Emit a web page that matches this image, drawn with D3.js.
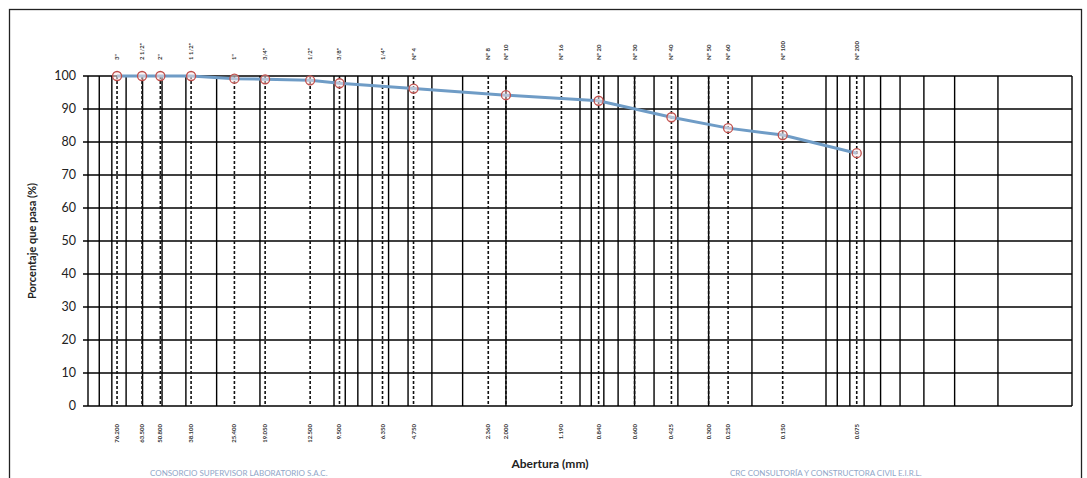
<!DOCTYPE html>
<html>
<head>
<meta charset="utf-8">
<script src="https://cdn.jsdelivr.net/npm/d3@7/dist/d3.min.js"></script>
<style>
  html, body { margin: 0; padding: 0; background: #fff; }
  svg { display: block; font-family: Lato, "Liberation Sans", sans-serif; }
</style>
</head>
<body>
<svg id="chart" width="1087" height="478"></svg>
<script>
// ---- data ----
const sieveNames = ['3"', '2 1/2"', '2"', '1 1/2"', '1"', '3/4"', '1/2"', '3/8"', '1/4"', 'Nº 4',
  'Nº 8', 'Nº 10', 'Nº 16', 'Nº 20', 'Nº 30', 'Nº 40', 'Nº 50', 'Nº 60', 'Nº 100', 'Nº 200'];
const openings = [76.2, 60.3, 50.8, 38.1, 25.4, 19.05, 12.5, 9.5, 6.35, 4.75,
  2.36, 2.0, 1.19, 0.84, 0.6, 0.425, 0.3, 0.25, 0.15, 0.075];
const openingLabels = ["76.200", "63.500", "50.800", "38.100", "25.400", "19.050", "12.500", "9.500", "6.350", "4.750",
  "2.360", "2.000", "1.190", "0.840", "0.600", "0.425", "0.300", "0.250", "0.150", "0.075"];
const passing = [100, 100, 100, 100, 99.2, 99.0, 98.7, 97.8, null, 96.2,
  null, 94.2, null, 92.5, null, 87.5, null, 84.2, 82.1, 76.6];
const yTicks = [0, 10, 20, 30, 40, 50, 60, 70, 80, 90, 100];
const xTitle = "Abertura (mm)";
const yTitle = "Porcentaje que pasa (%)";
const footLeft = "CONSORCIO SUPERVISOR LABORATORIO S.A.C.";
const footRight = "CRC CONSULTORÍA Y CONSTRUCTORA CIVIL E.I.R.L.";

// ---- layout ----
const svg = d3.select("#chart");
const L = 88, R = 1072, T = 76, B = 406;

const x = d3.scaleLog().domain([100, 0.01]).range([L, R]);
const y = d3.scaleLinear().domain([0, 100]).range([B, T]);

// outer frame
svg.append("rect").attr("x", 9.5).attr("y", 9.5).attr("width", 1072).attr("height", 490)
  .attr("fill", "none").attr("stroke", "#222").attr("stroke-width", 1.3);

// horizontal gridlines
svg.append("g").selectAll("line").data(yTicks).join("line")
  .attr("x1", L - 5).attr("x2", R)
  .attr("y1", d => y(d)).attr("y2", d => y(d))
  .attr("stroke", "#000").attr("stroke-width", 1.4);

// log gridlines (major + minor)
const logGrid = [];
for (let e = -2; e <= 1; e++) for (let m = 1; m <= 9; m++) logGrid.push(m * Math.pow(10, e));
logGrid.push(100);
svg.append("g").selectAll("line").data(logGrid).join("line")
  .attr("x1", d => x(d)).attr("x2", d => x(d))
  .attr("y1", T).attr("y2", B)
  .attr("stroke", "#000").attr("stroke-width", 1.4);

// dashed sieve lines
svg.append("g").selectAll("line").data(openings).join("line")
  .attr("x1", d => x(d)).attr("x2", d => x(d))
  .attr("y1", T).attr("y2", B)
  .attr("stroke", "#111").attr("stroke-width", 1.6)
  .attr("stroke-dasharray", "3,2");

// y axis labels
svg.append("g").selectAll("text").data(yTicks).join("text")
  .attr("x", L - 12).attr("y", d => y(d)).attr("dy", "0.35em")
  .attr("text-anchor", "end").attr("font-size", 12.5).attr("fill", "#222")
  .text(d => d);

// y title
svg.append("text")
  .attr("transform", `translate(36,${(T + B) / 2}) rotate(-90)`)
  .attr("text-anchor", "middle").attr("font-size", 11).attr("font-weight", "bold").attr("fill", "#222")
  .text(yTitle);

// x title
svg.append("text").attr("x", 550).attr("y", 468)
  .attr("text-anchor", "middle").attr("font-size", 12).attr("font-weight", "bold").attr("fill", "#222")
  .text(xTitle);

// top sieve labels
svg.append("g").selectAll("text").data(sieveNames).join("text")
  .attr("transform", (d, i) => `translate(${x(openings[i]) + 2},60) rotate(-90)`)
  .attr("text-anchor", "start").attr("font-size", 6).attr("font-weight", "bold").attr("fill", "#333")
  .text(d => d);

// bottom opening labels
svg.append("g").selectAll("text").data(openingLabels).join("text")
  .attr("transform", (d, i) => `translate(${x(openings[i]) + 2},424) rotate(-90)`)
  .attr("text-anchor", "end").attr("font-size", 6).attr("font-weight", "bold").attr("fill", "#333")
  .text(d => d);

// curve
const pts = openings.map((o, i) => ({ o, p: passing[i] })).filter(d => d.p !== null);
svg.append("path").datum(pts)
  .attr("d", d3.line().x(d => x(d.o)).y(d => y(d.p)))
  .attr("fill", "none").attr("stroke", "#6f9cc6").attr("stroke-width", 3);

svg.append("g").selectAll("circle").data(pts).join("circle")
  .attr("cx", d => x(d.o)).attr("cy", d => y(d.p)).attr("r", 4.5)
  .attr("fill", "#fbeaea").attr("fill-opacity", 0.5)
  .attr("stroke", "#c0504d").attr("stroke-width", 1.3);

// faint footers
svg.append("text").attr("x", 150).attr("y", 476).attr("font-size", 8).attr("fill", "#8fa6c8")
  .text(footLeft);
svg.append("text").attr("x", 730).attr("y", 476).attr("font-size", 8).attr("fill", "#8fa6c8")
  .text(footRight);
</script>
</body>
</html>
